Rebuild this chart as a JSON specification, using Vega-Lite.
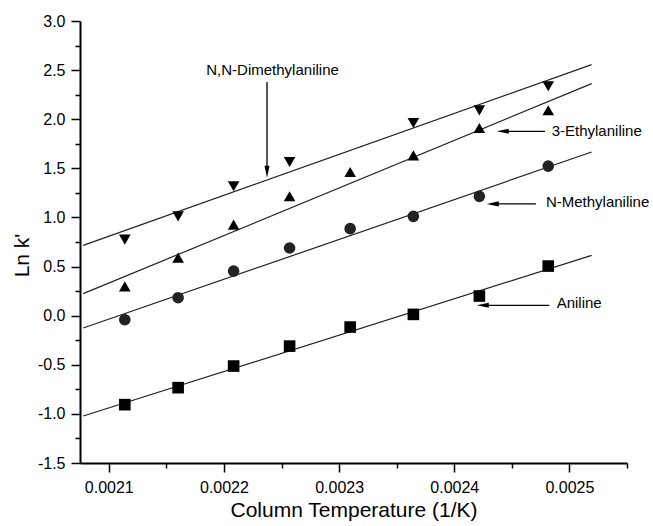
{
  "$schema": "https://vega.github.io/schema/vega-lite/v6.json",
  "width": 547,
  "height": 442,
  "autosize": {"type": "none"},
  "padding": {"left": 80, "top": 21, "right": 26, "bottom": 63},
  "background": "white",
  "config": {
    "view": {"stroke": null},
    "font": "Liberation Sans",
    "style": {
      "guide-label": {"font": "Liberation Sans", "fontSize": 16, "fill": "black"},
      "guide-title": {"font": "Liberation Sans", "fontSize": 21, "fontWeight": "normal", "fill": "black"}
    },
    "axis": {
      "grid": false,
      "labelFontSize": 16,
      "labelColor": "black",
      "labelFlush": false,
      "tickColor": "black",
      "tickWidth": 1.5,
      "tickSize": 9,
      "domainColor": "black",
      "domainWidth": 2
    }
  },
  "datasets": {
    "points": [
      {"series": "N,N-Dimethylaniline", "x": 0.0021139, "y": 0.774},
      {"series": "N,N-Dimethylaniline", "x": 0.0021602, "y": 1.011},
      {"series": "N,N-Dimethylaniline", "x": 0.0022084, "y": 1.317},
      {"series": "N,N-Dimethylaniline", "x": 0.002257, "y": 1.564},
      {"series": "N,N-Dimethylaniline", "x": 0.0023645, "y": 1.961},
      {"series": "N,N-Dimethylaniline", "x": 0.0024218, "y": 2.09},
      {"series": "N,N-Dimethylaniline", "x": 0.0024816, "y": 2.335},
      {"series": "3-Ethylaniline", "x": 0.0021139, "y": 0.298},
      {"series": "3-Ethylaniline", "x": 0.0021602, "y": 0.591},
      {"series": "3-Ethylaniline", "x": 0.0022084, "y": 0.927},
      {"series": "3-Ethylaniline", "x": 0.002257, "y": 1.215},
      {"series": "3-Ethylaniline", "x": 0.0023096, "y": 1.462},
      {"series": "3-Ethylaniline", "x": 0.0023645, "y": 1.632},
      {"series": "3-Ethylaniline", "x": 0.0024218, "y": 1.91},
      {"series": "3-Ethylaniline", "x": 0.0024816, "y": 2.091},
      {"series": "N-Methylaniline", "x": 0.0021139, "y": -0.041},
      {"series": "N-Methylaniline", "x": 0.0021602, "y": 0.183},
      {"series": "N-Methylaniline", "x": 0.0022084, "y": 0.454},
      {"series": "N-Methylaniline", "x": 0.002257, "y": 0.689},
      {"series": "N-Methylaniline", "x": 0.0023096, "y": 0.886},
      {"series": "N-Methylaniline", "x": 0.0023645, "y": 1.011},
      {"series": "N-Methylaniline", "x": 0.0024218, "y": 1.215},
      {"series": "N-Methylaniline", "x": 0.0024816, "y": 1.523},
      {"series": "Aniline", "x": 0.0021139, "y": -0.906},
      {"series": "Aniline", "x": 0.0021602, "y": -0.733},
      {"series": "Aniline", "x": 0.0022084, "y": -0.513},
      {"series": "Aniline", "x": 0.002257, "y": -0.31},
      {"series": "Aniline", "x": 0.0023096, "y": -0.116},
      {"series": "Aniline", "x": 0.0023645, "y": 0.013},
      {"series": "Aniline", "x": 0.0024218, "y": 0.2},
      {"series": "Aniline", "x": 0.0024816, "y": 0.505}
    ],
    "lines": [
      {"series": "N,N-Dimethylaniline", "x": 0.0020778, "y": 0.716},
      {"series": "N,N-Dimethylaniline", "x": 0.0025193, "y": 2.556},
      {"series": "3-Ethylaniline", "x": 0.0020778, "y": 0.224},
      {"series": "3-Ethylaniline", "x": 0.0025193, "y": 2.362},
      {"series": "N-Methylaniline", "x": 0.0020778, "y": -0.126},
      {"series": "N-Methylaniline", "x": 0.0025193, "y": 1.666},
      {"series": "Aniline", "x": 0.0020778, "y": -1.022},
      {"series": "Aniline", "x": 0.0025193, "y": 0.614}
    ],
    "arrows": [
      {"x": 0.0022374, "y": 2.379, "x2": 0.0022374, "y2": 1.45},
      {"x": 0.0024788, "y": 1.877, "x2": 0.002442, "y2": 1.877},
      {"x": 0.0024709, "y": 1.138, "x2": 0.002433, "y2": 1.138},
      {"x": 0.0024825, "y": 0.105, "x2": 0.0024245, "y2": 0.105}
    ],
    "headsLeft": [
      {"x": 0.0024369, "y": 1.877},
      {"x": 0.0024282, "y": 1.138},
      {"x": 0.0024195, "y": 0.105}
    ],
    "headsDown": [
      {"x": 0.0022374, "y": 1.405}
    ],
    "labelsCenter": [
      {"x": 0.0022422, "y": 2.505, "text": "N,N-Dimethylaniline"}
    ],
    "labelsLeft": [
      {"x": 0.0024846, "y": 1.88, "text": "3-Ethylaniline"},
      {"x": 0.0024796, "y": 1.158, "text": "N-Methylaniline"},
      {"x": 0.0024889, "y": 0.128, "text": "Aniline"}
    ]
  },
  "resolve": {"axis": {"x": "independent", "y": "independent"}},
  "layer": [
    {
      "data": {"name": "lines"},
      "mark": {"type": "line", "color": "#222222", "strokeWidth": 1.2},
      "encoding": {
        "detail": {"field": "series"},
        "x": {
          "field": "x", "type": "quantitative",
          "scale": {"domain": [0.002075, 0.00255], "nice": false, "zero": false},
          "axis": {
            "orient": "bottom",
            "grid": false,
            "values": [0.0021, 0.0022, 0.0023, 0.0024, 0.0025],
            "format": ".4f",
            "labelFont": "Liberation Sans",
            "labelFontSize": 16,
            "labelColor": "black",
            "labelFlush": false,
            "labelPadding": 7,
            "tickSize": 9,
            "tickWidth": 1.5,
            "tickColor": "black",
            "domainColor": "black",
            "domainWidth": 2,
            "title": "Column Temperature (1/K)",
            "titleFont": "Liberation Sans",
            "titleFontSize": 21,
            "titleFontWeight": "normal",
            "titleColor": "black",
            "titleX": 273.5,
            "titleY": 53.5,
            "titleBaseline": "alphabetic",
            "titleAlign": "center",
            "encode": {
              "labels": {"update": {"fontSize": {"value": 16}, "fill": {"value": "black"}}},
              "ticks": {"update": {"stroke": {"value": "black"}, "strokeWidth": {"value": 1.5}}},
              "domain": {"update": {"stroke": {"value": "black"}, "strokeWidth": {"value": 2}}}
            }
          }
        },
        "y": {
          "field": "y", "type": "quantitative",
          "scale": {"domain": [-1.5, 3], "nice": false, "zero": false},
          "axis": {
            "orient": "left",
            "grid": false,
            "values": [-1.5, -1, -0.5, 0, 0.5, 1, 1.5, 2, 2.5, 3],
            "labelExpr": "datum.value < 0 ? '-' + format(-datum.value, '.1f') : format(datum.value, '.1f')",
            "labelFont": "Liberation Sans",
            "labelFontSize": 16,
            "labelColor": "black",
            "labelFlush": false,
            "labelPadding": 6,
            "tickSize": 9,
            "tickWidth": 1.5,
            "tickColor": "black",
            "domainColor": "black",
            "domainWidth": 2,
            "title": "Ln k'",
            "titleFont": "Liberation Sans",
            "titleFontSize": 21,
            "titleFontWeight": "normal",
            "titleColor": "black",
            "titleX": -52,
            "titleY": 234,
            "titleAngle": -90,
            "titleAlign": "center",
            "titleBaseline": "alphabetic",
            "encode": {
              "labels": {"update": {"fontSize": {"value": 16}, "fill": {"value": "black"}}},
              "ticks": {"update": {"stroke": {"value": "black"}, "strokeWidth": {"value": 1.5}}},
              "domain": {"update": {"stroke": {"value": "black"}, "strokeWidth": {"value": 2}}}
            }
          }
        }
      }
    },
    {
      "data": {"name": "points"},
      "mark": {"type": "point", "filled": true, "opacity": 1, "strokeWidth": 0},
      "encoding": {
        "x": {
          "field": "x", "type": "quantitative",
          "scale": {"domain": [0.002075, 0.00255], "nice": false, "zero": false},
          "axis": {
            "orient": "bottom",
            "grid": false,
            "values": [0.00215, 0.00225, 0.00235, 0.00245, 0.00255],
            "labels": false, "domain": false,
            "tickSize": 5, "tickWidth": 1.5, "tickColor": "black",
            "title": null
          }
        },
        "y": {
          "field": "y", "type": "quantitative",
          "scale": {"domain": [-1.5, 3], "nice": false, "zero": false},
          "axis": {
            "orient": "left",
            "grid": false,
            "values": [-1.25, -0.75, -0.25, 0.25, 0.75, 1.25, 1.75, 2.25, 2.75],
            "labels": false, "domain": false,
            "tickSize": 5, "tickWidth": 1.5, "tickColor": "black",
            "title": null
          }
        },
        "shape": {
          "field": "series", "type": "nominal",
          "scale": {
            "domain": ["N,N-Dimethylaniline", "3-Ethylaniline", "N-Methylaniline", "Aniline"],
            "range": ["triangle-down", "triangle-up", "circle", "square"]
          },
          "legend": null
        },
        "size": {
          "field": "series", "type": "nominal",
          "scale": {
            "domain": ["N,N-Dimethylaniline", "3-Ethylaniline", "N-Methylaniline", "Aniline"],
            "range": [135, 135, 86, 81]
          },
          "legend": null
        },
        "color": {
          "field": "series", "type": "nominal",
          "scale": {
            "domain": ["N,N-Dimethylaniline", "3-Ethylaniline", "N-Methylaniline", "Aniline"],
            "range": ["#000000", "#000000", "#222222", "#000000"]
          },
          "legend": null
        }
      }
    },
    {
      "data": {"name": "arrows"},
      "mark": {"type": "rule", "color": "black", "strokeWidth": 1.3},
      "encoding": {
        "x": {"field": "x", "type": "quantitative", "axis": null},
        "x2": {"field": "x2"},
        "y": {"field": "y", "type": "quantitative", "axis": null},
        "y2": {"field": "y2"}
      }
    },
    {
      "data": {"name": "headsLeft"},
      "mark": {"type": "point", "shape": "M0,0L2,-0.42L2,0.42Z", "size": 144, "filled": true, "color": "black", "opacity": 1, "strokeWidth": 0},
      "encoding": {
        "x": {"field": "x", "type": "quantitative", "axis": null},
        "y": {"field": "y", "type": "quantitative", "axis": null}
      }
    },
    {
      "data": {"name": "headsDown"},
      "mark": {"type": "point", "shape": "M0,0L-0.42,-2L0.42,-2Z", "size": 144, "filled": true, "color": "black", "opacity": 1, "strokeWidth": 0},
      "encoding": {
        "x": {"field": "x", "type": "quantitative", "axis": null},
        "y": {"field": "y", "type": "quantitative", "axis": null}
      }
    },
    {
      "data": {"name": "labelsCenter"},
      "mark": {"type": "text", "align": "center", "baseline": "middle", "fontSize": 15, "font": "Liberation Sans", "color": "black"},
      "encoding": {
        "x": {"field": "x", "type": "quantitative", "axis": null},
        "y": {"field": "y", "type": "quantitative", "axis": null},
        "text": {"field": "text"}
      }
    },
    {
      "data": {"name": "labelsLeft"},
      "mark": {"type": "text", "align": "left", "baseline": "middle", "fontSize": 15, "font": "Liberation Sans", "color": "black"},
      "encoding": {
        "x": {"field": "x", "type": "quantitative", "axis": null},
        "y": {"field": "y", "type": "quantitative", "axis": null},
        "text": {"field": "text"}
      }
    }
  ]
}
